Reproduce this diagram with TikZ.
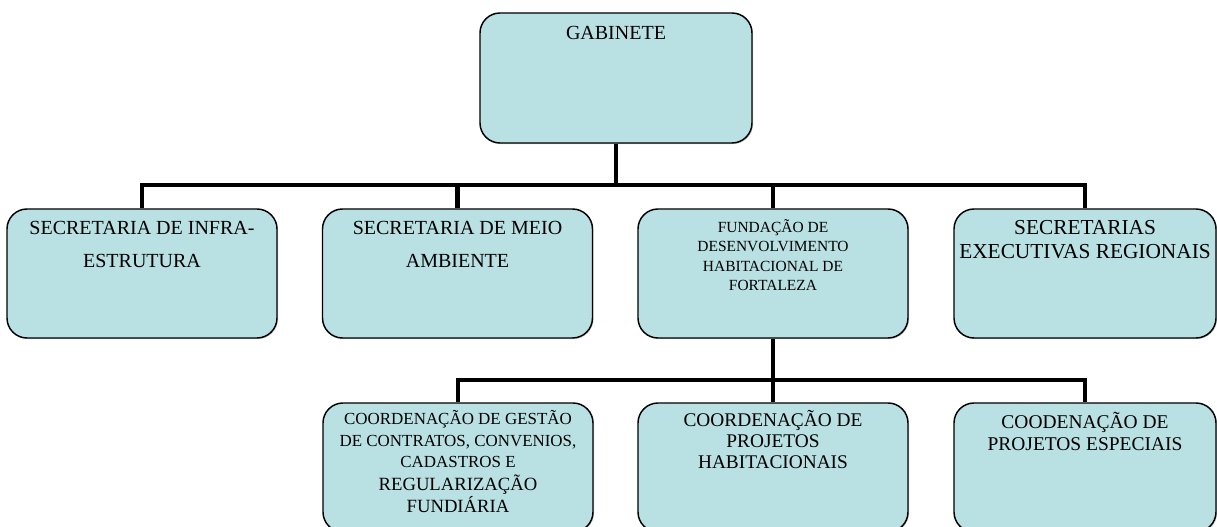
\documentclass[tikz,border=0pt]{standalone}
\usepackage{fontspec}
\setmainfont{Liberation Serif}
\usetikzlibrary{positioning,shadows}
\definecolor{boxfill}{RGB}{185,224,227}
\tikzset{
  orgbox/.style={draw, line width=1.1pt, rounded corners=15pt, fill=boxfill,
    minimum width=202.5pt, minimum height=96.75pt, inner sep=0pt,
    drop shadow={shadow xshift=0.8pt, shadow yshift=-0.8pt, fill=black!40}},
  boxtxt/.style={align=center, inner sep=0pt},
  conn/.style={line width=3.4pt},
}
\newcommand{\fsz}[2]{\fontsize{#1}{#2}\selectfont}

\begin{document}
\begin{tikzpicture}[x=0.75pt, y=-0.75pt]
\useasboundingbox (0,0) rectangle (1217,527);
% gabinete
\node[orgbox, minimum width=204pt, minimum height=97.5pt] (gab) at (616,78) {};
\node[boxtxt, font=\fsz{15}{16}, below=10.5pt of gab.north] (gabtxt) {GABINETE};
% secretarias
\node[orgbox] (infra) at (142,273.5) {};
\node[orgbox] (meio) at (457.5,273.5) {};
\node[orgbox] (habit) at (773,273.5) {};
\node[orgbox, minimum width=196.5pt] (regio) at (1085,273.5) {};
\node[boxtxt, font=\fsz{15}{24.5}, below=9.5pt of infra.north] (infratxt) {SECRETARIA DE INFRA-\\ESTRUTURA};
\node[boxtxt, font=\fsz{15}{24.5}, below=9.5pt of meio.north] (meiotxt) {SECRETARIA DE MEIO\\AMBIENTE};
\node[boxtxt, font=\fsz{11.6}{14.6}, below=8pt of habit.north] (habittxt) {FUNDAÇÃO DE\\DESENVOLVIMENTO\\HABITACIONAL DE\\FORTALEZA};
\node[boxtxt, font=\fsz{16}{18}, below=9pt of regio.north] (regiotxt) {SECRETARIAS\\EXECUTIVAS REGIONAIS};
% coordenacoes
\node[orgbox] (gestao) at (458,467.5) {};
\node[orgbox] (projhab) at (773,467.5) {};
\node[orgbox, minimum width=196.5pt] (projesp) at (1085,467.5) {};
\node[boxtxt, font=\fsz{12.7}{16}, below=6pt of gestao.north] (gestaotxt) {COORDENAÇÃO DE GESTÃO\\DE CONTRATOS, CONVENIOS,\\CADASTROS E\\[1pt]\fsz{14}{18}REGULARIZAÇÃO\\[1pt]\fsz{14}{18}FUNDIÁRIA};
\node[boxtxt, font=\fsz{14.5}{15.5}, below=6pt of projhab.north] (projhabtxt) {COORDENAÇÃO DE\\PROJETOS\\HABITACIONAIS};
\node[boxtxt, font=\fsz{14.6}{16.5}, below=7pt of projesp.north] (projesptxt) {COODENAÇÃO DE\\PROJETOS ESPECIAIS};
% ligacoes
\coordinate (bus1) at (616,185);
\coordinate (bus2) at (773,380);
\draw[conn] (gab.south) -- (bus1);
\draw[conn] (infra.north) |- (bus1);
\draw[conn] (meio.north) |- (bus1);
\draw[conn] (habit.north) |- (bus1);
\draw[conn] (regio.north) |- (bus1);
\draw[conn] (habit.south) -- (bus2);
\draw[conn] (gestao.north) |- (bus2);
\draw[conn] (projhab.north) |- (bus2);
\draw[conn] (projesp.north) |- (bus2);
\end{tikzpicture}
\end{document}
